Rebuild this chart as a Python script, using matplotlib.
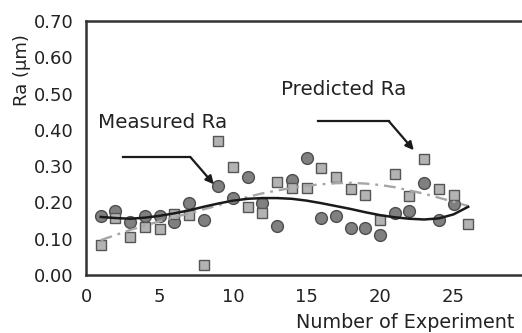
"""
Measured vs predicted surface roughness
"""

import numpy as np
import matplotlib
matplotlib.use("Agg")
import matplotlib.pyplot as plt

# data
exp_meas = list(range(1, 26))
ra_meas = [0.163, 0.176, 0.146, 0.162, 0.163, 0.146, 0.198, 0.152, 0.245, 0.212,
           0.270, 0.198, 0.135, 0.262, 0.322, 0.157, 0.163, 0.130, 0.130, 0.110,
           0.170, 0.176, 0.253, 0.152, 0.196]

exp_pred = list(range(1, 27))
ra_pred = [0.083, 0.157, 0.105, 0.132, 0.126, 0.167, 0.164, 0.027, 0.370, 0.298,
           0.187, 0.170, 0.256, 0.240, 0.240, 0.295, 0.270, 0.237, 0.220, 0.152,
           0.278, 0.218, 0.320, 0.237, 0.220, 0.140]

# trend lines (read at each experiment number)
exp_trend = list(range(1, 27))
trend_meas = [0.160, 0.157, 0.155, 0.158, 0.163, 0.170, 0.178, 0.188, 0.197, 0.205,
              0.210, 0.212, 0.212, 0.210, 0.205, 0.198, 0.190, 0.182, 0.173, 0.165,
              0.159, 0.155, 0.153, 0.156, 0.167, 0.188]
trend_pred = [0.096, 0.110, 0.124, 0.136, 0.148, 0.159, 0.170, 0.181, 0.192, 0.205,
              0.215, 0.225, 0.233, 0.240, 0.246, 0.250, 0.253, 0.254, 0.252, 0.248,
              0.242, 0.233, 0.224, 0.213, 0.202, 0.190]

xticks = [0, 5, 10, 15, 20, 25]
yticks = [0.0, 0.1, 0.2, 0.3, 0.4, 0.5, 0.6, 0.7]

plt.rcParams["font.family"] = "DejaVu Sans"
fig = plt.figure(figsize=(5.22, 3.33), dpi=100)
# axes runs past the right edge, like the cropped original
ax = fig.add_axes([86 / 522, 58 / 333, 441 / 522, 254 / 333])

ax.plot(exp_meas, ra_meas, "o", ms=8.5, mfc="#808080", mec="#4d4d4d", mew=1.0, zorder=3)
ax.plot(exp_pred, ra_pred, "s", ms=7.5, mfc="#b3b3b3", mec="#555555", mew=1.0, zorder=4)
ax.plot(exp_trend, trend_pred, color="#a6a6a6", lw=1.7,
        linestyle=(0, (5, 2.5, 1.2, 2.5)), zorder=5)
ax.plot(exp_trend, trend_meas, color="#1a1a1a", lw=1.8, zorder=6)

ax.set_xlim(0, 30)
ax.set_ylim(0, 0.7)
ax.set_xticks(xticks)
ax.set_yticks(yticks)
ax.set_yticklabels([f"{v:.2f}" for v in yticks])
ax.tick_params(length=0, labelsize=13, colors="#222222", pad=9)

for s in ["left", "bottom", "top"]:
    ax.spines[s].set_linewidth(1.8)
    ax.spines[s].set_color("#333333")
ax.spines["right"].set_visible(False)

# annotations
ax.text(5.2, 0.419, "Measured Ra", ha="center", va="center", fontsize=14.3, color="#222222")
ax.plot([2.5, 7.1], [0.325, 0.325], color="#1a1a1a", lw=1.6)
ax.annotate("", xy=(8.7, 0.250), xytext=(7.1, 0.325),
            arrowprops=dict(arrowstyle="-|>", color="#1a1a1a", lw=1.6,
                            mutation_scale=12, shrinkA=0, shrinkB=0))

ax.text(17.5, 0.51, "Predicted Ra", ha="center", va="center", fontsize=14.3, color="#222222")
ax.plot([15.8, 20.6], [0.424, 0.424], color="#1a1a1a", lw=1.6)
ax.annotate("", xy=(22.3, 0.344), xytext=(20.6, 0.424),
            arrowprops=dict(arrowstyle="-|>", color="#1a1a1a", lw=1.6,
                            mutation_scale=12, shrinkA=0, shrinkB=0))

fig.text(22 / 522, 1 - 70 / 333, "Ra (\u03bcm)", rotation=90, ha="center", va="center",
         fontsize=13, color="#222222")
fig.text(514 / 522, 1 - 322 / 333, "Number of Experiment", ha="right", va="center",
         fontsize=13.8, color="#222222")

fig.savefig("out.png", dpi=100)
